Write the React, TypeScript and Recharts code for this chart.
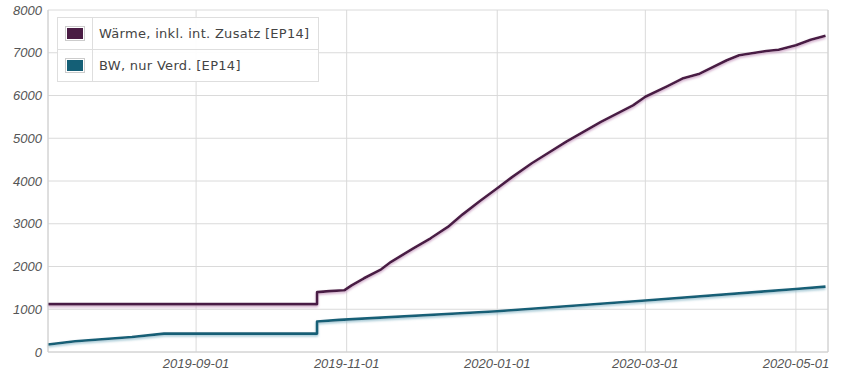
import {
  LineChart,
  Line,
  XAxis,
  YAxis,
  CartesianGrid,
  Legend,
  ReferenceLine,
} from 'recharts';

const heatDates = [
  '2019-07-03', '2019-10-20', '2019-10-20', '2019-10-25', '2019-10-31', '2019-11-03',
  '2019-11-08', '2019-11-15', '2019-11-19', '2019-11-28', '2019-12-05', '2019-12-12',
  '2019-12-18', '2019-12-25', '2020-01-01', '2020-01-07', '2020-01-15', '2020-01-29',
  '2020-02-12', '2020-02-25', '2020-03-01', '2020-03-10', '2020-03-16', '2020-03-23',
  '2020-04-03', '2020-04-08', '2020-04-19', '2020-04-24', '2020-05-01', '2020-05-07',
  '2020-05-13',
];
const heatValues = [
  1120, 1120, 1400, 1425, 1443, 1560,
  1725, 1935, 2110, 2425, 2660, 2925,
  3220, 3530, 3830, 4090, 4415, 4920,
  5385, 5770, 5970, 6220, 6395, 6510,
  6825, 6940, 7040, 7070, 7175, 7305,
  7400,
];

const compDates = [
  '2019-07-03', '2019-07-14', '2019-08-06', '2019-08-19', '2019-10-20', '2019-10-20',
  '2019-10-29', '2020-01-01', '2020-03-01', '2020-05-01', '2020-05-13',
];
const compValues = [175, 250, 350, 430, 430, 715, 752, 955, 1205, 1475, 1530];

const seriesNames = ['Wärme, inkl. int. Zusatz [EP14]', 'BW, nur Verd. [EP14]'];
const seriesColors = ['#4a1c44', '#145f76'];

const xTicks = ['2019-09-01', '2019-11-01', '2020-01-01', '2020-03-01', '2020-05-01'];
const yTicks = [0, 1000, 2000, 3000, 4000, 5000, 6000, 7000, 8000];
const xStart = '2019-07-03';
const xEnd = '2020-05-14';

const ts = (d: string) => Date.parse(d);
const heatData = heatDates.map((d, i) => ({ t: ts(d), v: heatValues[i] }));
const compData = compDates.map((d, i) => ({ t: ts(d), v: compValues[i] }));

const tickStyle = { fontSize: 13, fill: '#555', fontStyle: 'italic' as const };

// y labels, right aligned and italic like the x labels
function YTick(props: any) {
  const { x, y, payload } = props;
  return (
    <text x={x} y={y} dy="0.35em" textAnchor="end" fontSize={13} fill="#555" fontStyle="italic">
      {payload.value}
    </text>
  );
}

function LegendBox() {
  return (
    <div
      style={{
        background: 'rgba(255,255,255,0.92)',
        border: '1px solid #dedede',
        fontFamily: '"DejaVu Sans", sans-serif',
        fontSize: 13,
        letterSpacing: 0.3,
        color: '#444',
        width: 260,
      }}
    >
      {seriesNames.map((name, i) => (
        <div
          key={name}
          style={{
            display: 'flex',
            height: 31,
            borderTop: i > 0 ? '1px solid #dedede' : 'none',
          }}
        >
          <div
            style={{
              width: 34,
              borderRight: '1px solid #dedede',
              display: 'flex',
              alignItems: 'center',
              justifyContent: 'center',
            }}
          >
            <div style={{ border: '1px solid #ccc', padding: 1, background: '#fff' }}>
              <div style={{ width: 16, height: 11, background: seriesColors[i] }} />
            </div>
          </div>
          <div style={{ display: 'flex', alignItems: 'center', paddingLeft: 6 }}>{name}</div>
        </div>
      ))}
    </div>
  );
}

export default function App() {
  return (
    <div style={{ position: 'fixed', left: 0, top: 0, width: 850, height: 375, background: '#fff' }}>
      <LineChart
        width={850}
        height={375}
        margin={{ top: 10, right: 22, left: 0, bottom: 0 }}
        style={{ fontFamily: '"Liberation Sans", Arial, sans-serif' }}
      >
        <defs>
          <filter id="shadowHeat" filterUnits="userSpaceOnUse" x="0" y="0" width="850" height="375">
            <feDropShadow dx="0" dy="1.5" stdDeviation="1" floodColor="#c79ac0" floodOpacity="0.9" />
          </filter>
          <filter id="shadowComp" filterUnits="userSpaceOnUse" x="0" y="0" width="850" height="375">
            <feDropShadow dx="0" dy="1.5" stdDeviation="1" floodColor="#8fbccb" floodOpacity="0.9" />
          </filter>
        </defs>
        <CartesianGrid stroke="#dadada" />
        <XAxis
          dataKey="t"
          type="number"
          scale="time"
          domain={[ts(xStart), ts(xEnd)]}
          ticks={xTicks.map(ts)}
          tickFormatter={(v: number) => new Date(v).toISOString().slice(0, 10)}
          tick={tickStyle}
          tickLine={false}
          tickSize={6}
          tickMargin={1}
          axisLine={{ stroke: '#d0d0d0' }}
          height={23}
          allowDuplicatedCategory={false}
        />
        <YAxis
          type="number"
          domain={[0, 8000]}
          ticks={yTicks}
          tick={<YTick />}
          tickLine={false}
          tickSize={6}
          tickMargin={0}
          axisLine={{ stroke: '#d0d0d0' }}
          width={48}
        />
        <ReferenceLine x={ts(xEnd)} stroke="#d0d0d0" />
        <Legend
          layout="horizontal"
          verticalAlign="middle"
          align="center"
          content={() => <LegendBox />}
          wrapperStyle={{ top: 17, left: 57, width: 262, height: 64 }}
        />
        <Line
          data={heatData}
          dataKey="v"
          name={seriesNames[0]}
          type="linear"
          stroke={seriesColors[0]}
          strokeWidth={2.6}
          strokeLinejoin="round"
          dot={false}
          filter="url(#shadowHeat)"
          isAnimationActive={false}
        />
        <Line
          data={compData}
          dataKey="v"
          name={seriesNames[1]}
          type="linear"
          stroke={seriesColors[1]}
          strokeWidth={2.6}
          strokeLinejoin="round"
          dot={false}
          filter="url(#shadowComp)"
          isAnimationActive={false}
        />
      </LineChart>
    </div>
  );
}
